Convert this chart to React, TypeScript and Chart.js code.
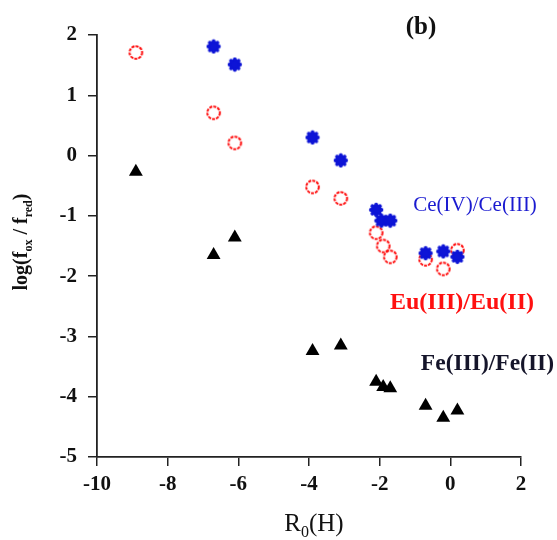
import React, { useEffect, useRef } from "react";
import { Chart, registerables } from "chart.js";

Chart.register(...registerables);

const ceX = [-6.7, -6.1, -3.9, -3.1, -2.1, -1.95, -1.7, -0.7, -0.2, 0.2];
const ceY = [1.81, 1.51, 0.3, -0.08, -0.9, -1.08, -1.08, -1.62, -1.59, -1.68];
const euX = [-8.9, -6.7, -6.1, -3.9, -3.1, -2.1, -1.9, -1.7, -0.7, -0.2, 0.2];
const euY = [1.71, 0.71, 0.21, -0.52, -0.71, -1.28, -1.5, -1.68, -1.72, -1.88, -1.57];
const feX = [-8.9, -6.7, -6.1, -3.9, -3.1, -2.1, -1.9, -1.7, -0.7, -0.2, 0.2];
const feY = [-0.27, -1.65, -1.36, -3.24, -3.15, -3.75, -3.84, -3.86, -4.15, -4.35, -4.23];

const seriesNames = ["Ce(IV)/Ce(III)", "Eu(III)/Eu(II)", "Fe(III)/Fe(II)"];
const annoText = ["(b)", "Ce(IV)/Ce(III)", "Eu(III)/Eu(II)", "Fe(III)/Fe(II)"];
const annoX = [-0.83, 0.7, 0.33, 1.05];
const annoY = [2.12, -0.82, -2.45, -3.45];
const annoColor = ["#111111", "#1a1ad0", "#ff1010", "#15152a"];
const annoFont = [
  "bold 25px 'Liberation Serif'",
  "21px 'Liberation Serif'",
  "bold 24px 'Liberation Serif'",
  "bold 23.5px 'Liberation Serif'",
];

const xTicksMin = -10;
const xTicksMax = 2;
const yTicksMin = -5;
const yTicksMax = 2;

function toPts(xs: number[], ys: number[]) {
  return xs.map((x, i) => ({ x, y: ys[i] }));
}

function makeEuMarker() {
  const c = document.createElement("canvas");
  c.width = 17;
  c.height = 17;
  const g = c.getContext("2d")!;
  g.strokeStyle = "#ff1010";
  g.lineWidth = 2;
  g.setLineDash([3, 1.1]);
  g.beginPath();
  g.arc(8.5, 8.5, 6.3, 0, Math.PI * 2);
  g.stroke();
  return c;
}

function makeCeMarker() {
  const c = document.createElement("canvas");
  c.width = 16;
  c.height = 16;
  const g = c.getContext("2d")!;
  g.fillStyle = "#0d14d6";
  g.beginPath();
  g.arc(8, 8, 5.4, 0, Math.PI * 2);
  g.fill();
  for (let k = 0; k < 8; k++) {
    const a = (k * Math.PI) / 4;
    g.beginPath();
    g.arc(8 + Math.cos(a) * 5.3, 8 + Math.sin(a) * 5.3, 1.9, 0, Math.PI * 2);
    g.fill();
  }
  return c;
}

type Seg = { t: string; sub?: boolean };

function drawSegs(ctx: CanvasRenderingContext2D, segs: Seg[], size: number, weight: string) {
  const main = `${weight} ${size}px 'Liberation Serif'`;
  const small = `${weight} ${Math.round(size * 0.62)}px 'Liberation Serif'`;
  let total = 0;
  const widths = segs.map((s) => {
    ctx.font = s.sub ? small : main;
    const w = ctx.measureText(s.t).width;
    total += w;
    return w;
  });
  let x = -total / 2;
  segs.forEach((s, i) => {
    ctx.font = s.sub ? small : main;
    ctx.fillText(s.t, x, s.sub ? size * 0.34 : 0);
    x += widths[i];
  });
}

const textPlugin = {
  id: "textPlugin",
  afterDraw(chart: any) {
    const ctx = chart.ctx as CanvasRenderingContext2D;
    const xs = chart.scales.x;
    const ys = chart.scales.y;
    const area = chart.chartArea;
    ctx.save();
    ctx.textBaseline = "middle";
    ctx.textAlign = "center";
    annoText.forEach((t, i) => {
      ctx.font = annoFont[i];
      ctx.fillStyle = annoColor[i];
      ctx.fillText(t, xs.getPixelForValue(annoX[i]), ys.getPixelForValue(annoY[i]));
    });
    ctx.textAlign = "left";
    ctx.fillStyle = "#111111";
    // x axis title
    ctx.save();
    ctx.translate((area.left + area.right) / 2 + 5, 524);
    drawSegs(ctx, [{ t: "R" }, { t: "0", sub: true }, { t: "(H)" }], 25, "normal");
    ctx.restore();
    // y axis title
    ctx.save();
    ctx.translate(22, (area.top + area.bottom) / 2 - 4);
    ctx.rotate(-Math.PI / 2);
    drawSegs(
      ctx,
      [{ t: "log(f" }, { t: "ox", sub: true }, { t: " / f" }, { t: "red", sub: true }, { t: ")" }],
      20,
      "bold"
    );
    ctx.restore();
    ctx.restore();
  },
};

export default function App() {
  const ref = useRef<HTMLCanvasElement>(null);
  useEffect(() => {
    if (!ref.current) return;
    const tickFont = { family: "'Liberation Serif'", size: 21, weight: "bold" as const };
    const chart = new Chart(ref.current, {
      type: "scatter",
      data: {
        datasets: [
          {
            label: seriesNames[0],
            data: toPts(ceX, ceY),
            pointStyle: makeCeMarker() as any,
            pointRadius: 7,
            backgroundColor: "#0d14d6",
            borderColor: "#0d14d6",
          },
          {
            label: seriesNames[1],
            data: toPts(euX, euY),
            pointStyle: makeEuMarker() as any,
            pointRadius: 7,
            backgroundColor: "rgba(0,0,0,0)",
            borderColor: "#ff1a1a",
          },
          {
            label: seriesNames[2],
            data: toPts(feX, feY),
            pointStyle: "triangle",
            pointRadius: 8,
            backgroundColor: "#000000",
            borderColor: "#000000",
            borderWidth: 0,
          },
        ],
      },
      options: {
        responsive: false,
        animation: false,
        devicePixelRatio: 1,
        layout: { padding: { top: 35, right: 36, left: 0, bottom: 0 } },
        plugins: { legend: { display: false }, tooltip: { enabled: false }, title: { display: false } },
        scales: {
          x: {
            type: "linear",
            min: xTicksMin,
            max: xTicksMax,
            afterFit: (s: any) => {
              s.height = 83;
            },
            ticks: { stepSize: 2, color: "#111", font: tickFont, padding: 6 },
            grid: { drawOnChartArea: false, drawTicks: true, tickLength: 9, color: "#222", lineWidth: 1.5 },
            border: { display: true, color: "#222", width: 1.8 },
          },
          y: {
            type: "linear",
            min: yTicksMin,
            max: yTicksMax,
            afterFit: (s: any) => {
              s.width = 97;
            },
            ticks: { stepSize: 1, color: "#111", font: tickFont, padding: 11 },
            grid: { drawOnChartArea: false, drawTicks: true, tickLength: 9, color: "#222", lineWidth: 1.5 },
            border: { display: true, color: "#222", width: 1.8 },
          },
        },
      },
      plugins: [textPlugin],
    });
    return () => chart.destroy();
  }, []);
  return (
    <div style={{ position: "absolute", left: 0, top: 0, width: 557, height: 540, background: "#fff" }}>
      <canvas ref={ref} width={557} height={540} style={{ width: 557, height: 540 }} />
    </div>
  );
}
